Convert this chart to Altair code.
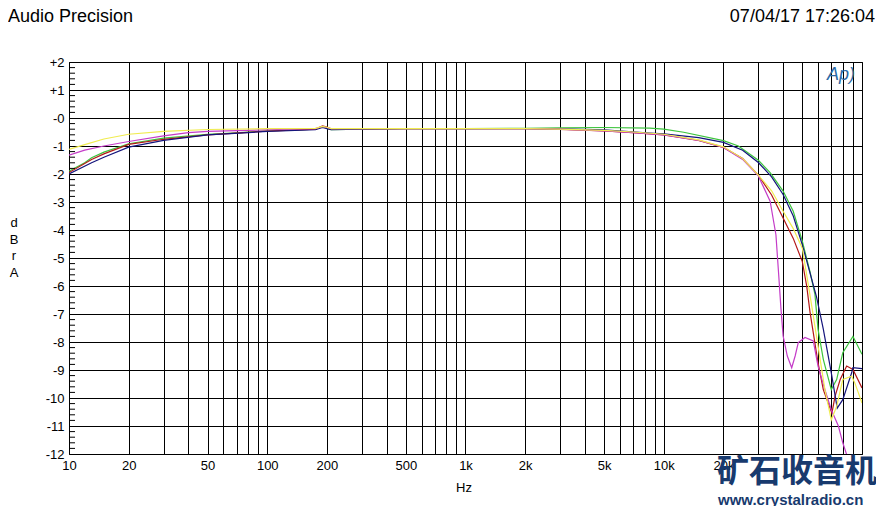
import altair as alt
import pandas as pd

# ---------------- data ----------------
freq_green = [10, 12, 13, 15, 20, 30, 50, 70, 100, 175, 190, 200, 210, 300, 500, 1000, 2000, 3000,
              5000, 8500, 10000, 12600, 20000, 23800, 30000, 34400, 40000, 45000, 50000, 54700,
              57900, 60000, 63800, 70000, 74500, 80000, 90000, 100000]
db_green = [-1.9, -1.6, -1.42, -1.22, -0.92, -0.72, -0.58, -0.53, -0.46, -0.4, -0.31, -0.36, -0.42,
            -0.4, -0.38, -0.38, -0.37, -0.35, -0.34, -0.36, -0.4, -0.51, -0.81, -1.0, -1.51, -1.95,
            -2.61, -3.33, -4.4, -5.5, -6.3, -7.54, -8.62, -9.7, -9.34, -8.38, -7.8, -8.44]

freq_navy = [10, 13, 15, 20, 30, 50, 80, 100, 175, 190, 200, 210, 300, 500, 1000, 2000, 3000, 5000,
             8500, 10000, 15000, 20000, 25000, 30000, 35000, 40000, 45000, 50000, 55000, 59000,
             63800, 70000, 75000, 80000, 88700, 90000, 100000]
db_navy = [-2.0, -1.6, -1.4, -1.04, -0.8, -0.6, -0.52, -0.48, -0.42, -0.34, -0.38, -0.42, -0.4, -0.38,
           -0.38, -0.38, -0.39, -0.42, -0.54, -0.57, -0.7, -0.87, -1.15, -1.59, -2.1, -2.73, -3.5,
           -4.53, -5.6, -6.4, -7.54, -9.1, -10.36, -10.06, -9.1, -8.92, -8.95]

freq_red = [10, 13, 15, 20, 30, 50, 100, 175, 190, 200, 210, 500, 1000, 2000, 3000, 5000, 7000,
            10000, 15000, 20000, 25000, 30000, 35000, 40000, 45000, 50000, 52600, 54700, 60000,
            63800, 70500, 73100, 77600, 83700, 90000, 100000]
db_red = [-1.95, -1.48, -1.28, -0.94, -0.76, -0.6, -0.47, -0.4, -0.28, -0.32, -0.4, -0.38, -0.38,
          -0.38, -0.41, -0.46, -0.52, -0.6, -0.8, -1.05, -1.45, -2.04, -2.75, -3.57, -4.3, -5.13,
          -6.0, -6.94, -8.74, -9.7, -10.54, -9.94, -9.34, -8.86, -8.98, -9.64]

freq_yellow = [10, 12, 15, 20, 30, 50, 100, 175, 190, 200, 210, 500, 1000, 2000, 3000, 5000, 7000,
               10000, 15000, 20000, 25000, 30000, 35000, 40000, 45000, 50000, 55000, 60000, 65000,
               70000, 74500, 80000, 88700, 92000, 100000]
db_yellow = [-1.12, -0.95, -0.75, -0.58, -0.48, -0.41, -0.38, -0.37, -0.3, -0.33, -0.38, -0.38,
             -0.38, -0.38, -0.4, -0.44, -0.5, -0.58, -0.78, -1.03, -1.45, -2.04, -2.6, -3.33, -3.95,
             -4.65, -6.44, -8.14, -9.7, -10.78, -10.3, -9.34, -9.22, -9.46, -10.18]

freq_magenta = [10, 12, 15, 20, 30, 40, 50, 100, 175, 190, 200, 210, 500, 1000, 2000, 3000, 5000,
                7000, 10000, 15000, 20000, 25000, 30000, 34400, 36800, 38000, 39000, 40000, 42000,
                44200, 46000, 47700, 51600, 56800, 60000, 65000, 70000, 76000, 80000, 84400,
                90000, 100000]
db_magenta = [-1.33, -1.15, -1.0, -0.84, -0.64, -0.52, -0.48, -0.42, -0.38, -0.3, -0.34, -0.38,
              -0.38, -0.38, -0.38, -0.4, -0.46, -0.52, -0.6, -0.8, -1.05, -1.48, -2.07, -2.97,
              -4.17, -5.6, -6.8, -7.78, -8.5, -8.92, -8.5, -8.02, -7.84, -7.96, -8.86, -9.7,
              -10.42, -11.0, -11.6, -12.1, -12.8, -13.8]

series_names = ["green", "red", "navy", "magenta", "yellow"]
series_colors = ["#3cc43c", "#b41818", "#14147c", "#c43cc8", "#f0ec50"]

grid_freqs = [10, 20, 30, 40, 50, 60, 70, 80, 90,
              100, 200, 300, 400, 500, 600, 700, 800, 900,
              1000, 2000, 3000, 4000, 5000, 6000, 7000, 8000, 9000,
              10000, 20000, 30000, 40000, 50000, 60000, 70000, 80000, 90000, 100000]
label_freqs = [10, 20, 50, 100, 200, 500, 1000, 2000, 5000, 10000, 20000]
y_ticks = [-12, -11, -10, -9, -8, -7, -6, -5, -4, -3, -2, -1, 0, 1, 2]
minor_step = 0.2

# ---------------- build table ----------------
series_data = {
    "green": (freq_green, db_green),
    "red": (freq_red, db_red),
    "navy": (freq_navy, db_navy),
    "magenta": (freq_magenta, db_magenta),
    "yellow": (freq_yellow, db_yellow),
}
rows = []
for k, name in enumerate(series_names):
    fs, ds = series_data[name]
    for f, d in zip(fs, ds):
        rows.append({"series": name, "freq": f, "db": d, "k": k})
df = pd.DataFrame(rows)

minor_vals = [round(y_ticks[0] + i * minor_step, 1)
              for i in range(int(round((y_ticks[-1] - y_ticks[0]) / minor_step)) + 1)]
minor_vals = [v for v in minor_vals if abs(v - round(v)) > 1e-6]
minor_df = pd.DataFrame({"db": minor_vals})

FONT = "Liberation Sans"
W, H = 793, 392

label_list = "[" + ",".join(str(v) for v in label_freqs) + "]"
x_scale = alt.Scale(type="log", domain=[grid_freqs[0], grid_freqs[-1]], nice=False)
y_scale = alt.Scale(domain=[y_ticks[0], y_ticks[-1]], nice=False, zero=False)

x_axis = alt.Axis(
    values=grid_freqs, title=None, grid=True, gridColor="#000000", gridOpacity=1, gridWidth=1,
    ticks=False, domain=False, labelFlush=False, labelOverlap=False,
    labelExpr=f"indexof({label_list}, datum.value) >= 0 ? (datum.value >= 1000 ? (datum.value/1000) + 'k' : '' + datum.value) : ''",
    labelFont=FONT, labelFontSize=13, labelColor="#000000", labelPadding=5,
)
y_axis = alt.Axis(
    values=y_ticks, title=None, grid=True, gridColor="#000000", gridOpacity=1, gridWidth=1,
    ticks=False, domain=False, labelFlush=False, labelOverlap=False, tickCount=len(y_ticks),
    labelExpr="datum.value > 0 ? '+' + datum.value : '-' + abs(datum.value)",
    labelFont=FONT, labelFontSize=13, labelColor="#000000", labelPadding=5,
)

lines = alt.Chart(df).mark_line(strokeWidth=1.2, clip=True).encode(
    x=alt.X("freq:Q", scale=x_scale, axis=x_axis),
    y=alt.Y("db:Q", scale=y_scale, axis=y_axis),
    color=alt.Color("series:N", scale=alt.Scale(domain=series_names, range=series_colors), legend=None),
    detail="series:N",
    order=alt.Order("freq:Q"),
)

minor = alt.Chart(minor_df).mark_rule(color="#000000", strokeWidth=1).encode(
    y=alt.Y("db:Q", scale=y_scale, axis=y_axis),
    x=alt.value(0), x2=alt.value(6),
)

def txt(s, x, y, **kw):
    return alt.Chart(pd.DataFrame({"t": [s]})).mark_text(font=FONT, **kw).encode(
        x=alt.value(x), y=alt.value(y), text="t:N")

t_title = txt("Audio Precision", -61, -54, fontSize=18, align="left", baseline="top", color="#000000")
t_date = txt("07/04/17 17:26:04", 806, -54, fontSize=18, align="right", baseline="top", color="#000000")
t_hz = txt("Hz", 395, 426, fontSize=13, align="center", baseline="middle", color="#000000")
t_ylab = alt.Chart(pd.DataFrame({"t": [0]})).mark_text(
    font=FONT, fontSize=13, align="center", baseline="top", lineHeight=16.5,
    text=["d", "B", "r", "", "A"], color="#000000").encode(x=alt.value(-55), y=alt.value(155))
t_logo = txt("Ap)", 772, 13, fontSize=18, fontStyle="italic", align="center", baseline="middle", color="#2a6aa6")
t_wm1 = alt.Chart(pd.DataFrame({"t": ["矿石收音机"]})).mark_text(
    font="Noto Sans CJK SC", fontSize=32, fontWeight="bold", align="left", baseline="middle",
    color="#183a6e").encode(x=alt.value(648), y=alt.value(410), text="t:N")
t_wm2 = alt.Chart(pd.DataFrame({"t": ["www.crystalradio.cn"]})).mark_text(
    font=FONT, fontSize=15, fontWeight="bold", align="left", baseline="middle",
    color="#183a6e").encode(x=alt.value(649), y=alt.value(438), text="t:N")

chart = alt.layer(lines, minor, t_title, t_date, t_hz, t_ylab, t_logo, t_wm1, t_wm2).properties(
    width=W, height=H,
    autosize=alt.AutoSizeParams(type="none"),
    padding={"left": 61, "top": 54, "right": 14, "bottom": 52},
    background="#ffffff",
).configure_view(stroke="#000000", strokeWidth=1)

chart.save("out.html", embed_options={"renderer": "svg", "actions": False})
